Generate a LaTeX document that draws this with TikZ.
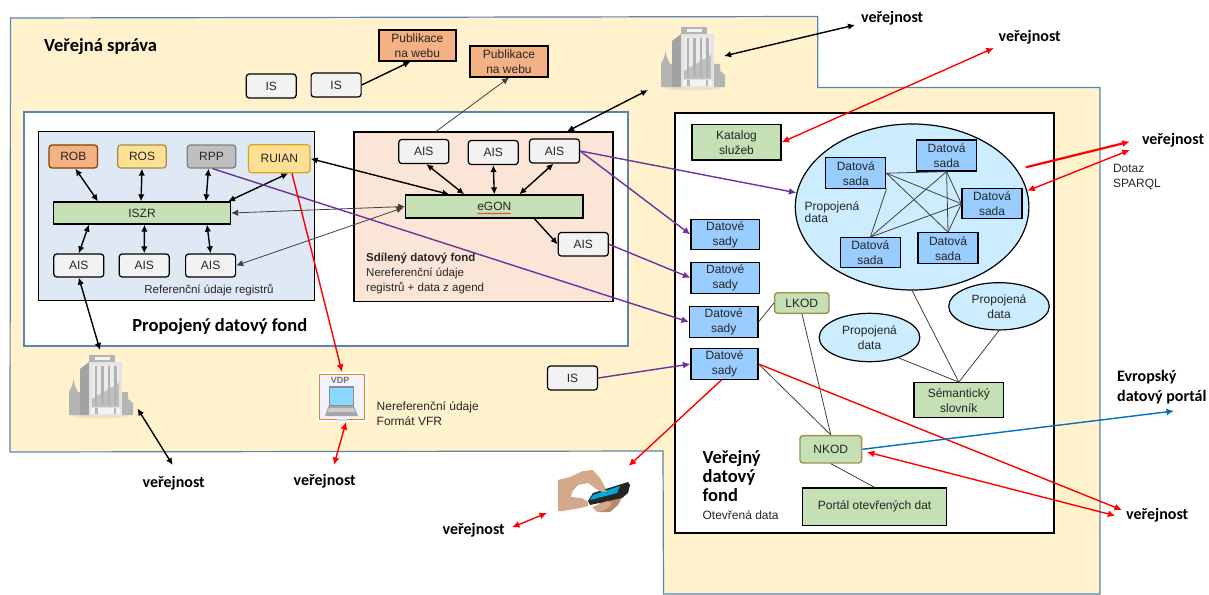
\documentclass[tikz,border=0pt]{standalone}
\usepackage{fontspec}
\setmainfont{Liberation Sans}
\newfontfamily\calib{Carlito}
\usetikzlibrary{arrows.meta,shapes.geometric,decorations.pathmorphing}
\definecolor{txt}{HTML}{262626}
\definecolor{bord}{HTML}{5B84AE}
\definecolor{yel}{HTML}{FFF2CC}
\definecolor{regblue}{HTML}{DEE9F5}
\definecolor{peach}{HTML}{FBE5D6}
\definecolor{grn}{HTML}{C5E0B4}
\definecolor{gry}{HTML}{F2F2F2}
\definecolor{pubor}{HTML}{F4B183}
\definecolor{dsblue}{HTML}{99CCFF}
\definecolor{elblue}{HTML}{CCECFF}
\definecolor{purp}{HTML}{7030A0}
\definecolor{euro}{HTML}{0070C0}
\definecolor{bg}{HTML}{B4B4B4}
\definecolor{skin}{HTML}{D2A98A}
\definecolor{skindk}{HTML}{B98A68}
\tikzset{
 lab/.style={font=\fontsize{12}{15}\selectfont,text=txt,inner sep=0pt,align=center},
 ltxt/.style={font=\fontsize{12}{15}\selectfont,text=txt,inner sep=0pt,align=left,anchor=west},
 head/.style={font=\calib\bfseries\fontsize{18.5}{20}\selectfont,inner sep=0pt,text=black},
 pub/.style={font=\calib\bfseries\fontsize{16}{20}\selectfont,inner sep=0pt,text=black,align=left},
 box/.style={lab,draw=black,line width=1.2pt,inner sep=0pt},
 aisbox/.style={box,fill=gry,rounded corners=3pt,minimum width=50pt,minimum height=24pt},
 greenbar/.style={box,fill=grn},
 pubbox/.style={box,fill=pubor,minimum width=77pt,minimum height=31pt},
 dsbox/.style={box,fill=dsblue,minimum width=60pt,minimum height=30pt},
 sadybox/.style={box,fill=dsblue,minimum width=68.4pt,minimum height=30pt},
 regbox/.style={box,rounded corners=3pt,minimum width=48.5pt,minimum height=23pt},
 oliv/.style={box,fill=grn,draw=black!50!yellow!70!brown,line width=1.4pt,rounded corners=3pt},
 elli/.style={ellipse,draw=black,line width=1.2pt,fill=elblue,inner sep=0pt,lab},
 da/.style={line width=1.4pt,black,{Latex[length=7pt,width=6.5pt]}-{Latex[length=7pt,width=6.5pt]}},
 sa/.style={line width=1.4pt,black,-{Latex[length=7pt,width=6.5pt]}},
 thinda/.style={line width=.8pt,black!75,{Latex[length=7pt,width=6.5pt]}-{Latex[length=7pt,width=6.5pt]}},
 thinline/.style={line width=.8pt,black!75},
 pa/.style={line width=1.4pt,purp,-{Latex[length=7.5pt,width=7pt]}},
 ra/.style={line width=1.4pt,red,-{Latex[length=7.5pt,width=7pt]}},
 rda/.style={line width=1.4pt,red,{Latex[length=7.5pt,width=7pt]}-{Latex[length=7.5pt,width=7pt]}},
 tower/.pic={
  \fill[black!25,opacity=.3] (32,61) ellipse (28 and 2.5);
  \fill[bg] (0,60)--(0,37)--(3,31)--(4.5,24)--(6,31)--(9,37)--(12,37)--(12,60)--cycle;
  \fill[bg] (52,60)--(52,37)--(59,37)--(59,44)--(64,48)--(64,60)--cycle;
  \fill[black!10!bg] (11,60)--(11,14)--(20,7)--(20,60)--cycle;
  \fill[black!4!white!75!bg] (20,7)--(53,7)--(53,60)--(20,60)--cycle;
  \fill[black!8!white] (23,10)--(50,10)--(50,52)--(23,52)--cycle;
  \foreach \wx in {27,33.5,40,46.5}{\fill[black!30!white] (\wx-1.2,11)--(\wx+1.2,11)--(\wx+1.2,50)--(\wx-1.2,50)--cycle;}
  \fill[bg,opacity=.8] (23,44)--(50,28)--(50,52)--(23,52)--cycle;
  \fill[bg] (20,0)--(46,0)--(46,7)--(20,7)--cycle;
  \fill[black!5!white] (26,2)--(41,2)--(41,5)--(26,5)--cycle;
  \fill[black!5!white] (22,53)--(51,53)--(51,59)--(22,59)--cycle;
  \fill[bg] (26,53)--(29,53)--(29,59)--(26,59)--cycle;
  \fill[bg] (45,53)--(47,53)--(47,59)--(45,59)--cycle;
 }
}
\begin{document}
\begin{tikzpicture}[x=1pt,y=-1pt]
\useasboundingbox (0,0) rectangle (1209,594);
% areas
\draw[bord,fill=yel,line width=1.2pt] (10.5,18)--(817.8,16.5)--(817.8,87.5)--(1100,87.5)--(1100,594)--(663.5,594)--(663,451)--(10,452)--cycle;
\node[head,anchor=west] (vs) at (44,46.5) {Veřejná správa};
\node[draw=bord,line width=1.2pt,fill=white,minimum width=604pt,minimum height=234pt,inner sep=0pt] (pdf) at (326,229) {};
\node[draw=black,line width=1.2pt,fill=regblue,minimum width=276pt,minimum height=169.5pt,inner sep=0pt] (reg) at (176.8,216) {};
\node[draw=black,line width=1.2pt,fill=peach,minimum width=259pt,minimum height=169.5pt,inner sep=0pt] (sdil) at (483.5,216.8) {};
\node[draw=black,line width=1.2pt,fill=white,minimum width=379pt,minimum height=420pt,inner sep=0pt] (vdf) at (864.4,323) {};
\node[head,anchor=center] (pdft) at (219.8,326.5) {Propojený datový fond};
\node[lab,font=\fontsize{11.5}{14}\selectfont] (rt) at (209,290.5) {Referenční údaje registrů};
\node[ltxt,anchor=north west,font=\fontsize{11.5}{15}\selectfont] (st) at (366,253) {\textbf{Sdílený datový fond}\\Nereferenční údaje\\registrů + data z agend};
% registers
\node[regbox,fill=pubor,draw=black!50!orange] (rob) at (73.3,156.5) {ROB};
\node[regbox,fill=yellow!45!orange!40!white,draw=black!50!yellow!70!brown] (ros) at (142,156.5) {ROS};
\node[regbox,fill=black!25,draw=black!50] (rpp) at (211.5,156.5) {RPP};
\node[regbox,fill=yellow!45!orange!40!white,draw=yellow!40!orange!85!black,minimum width=61.5pt,minimum height=28pt] (ruian) at (279.3,158.7) {RUIAN};
\node[greenbar,minimum width=177pt,minimum height=22pt] (iszr) at (142,213) {ISZR};
\node[aisbox,minimum height=23pt] (a1) at (78.8,265.5) {AIS};
\node[aisbox,minimum height=23pt] (a2) at (144.2,265.5) {AIS};
\node[aisbox,minimum height=23pt] (a3) at (210.6,265.5) {AIS};
% sdileny
\node[aisbox] (b1) at (423.8,151.5) {AIS};
\node[aisbox] (b2) at (493.3,152.5) {AIS};
\node[aisbox] (b3) at (554.5,151) {AIS};
\node[greenbar,minimum width=177.3pt,minimum height=23pt] (egon) at (494.3,206.5) {eGON};
\draw[red,line width=.4pt,decorate,decoration={snake,amplitude=.5pt,segment length=2.2pt}] (477.5,213.5)--(511,213.5);
\node[aisbox,minimum height=23.5pt] (b4) at (583.3,244.3) {AIS};
% top
\node[aisbox] (is1) at (271.2,86) {IS};
\node[aisbox] (is2) at (336.1,85) {IS};
\node[pubbox] (pub1) at (417.4,45.5) {Publikace\\na webu};
\node[pubbox,minimum width=78pt] (pub2) at (509,61.5) {Publikace\\na webu};
\node[aisbox] (is3) at (572.5,378) {IS};
% vdf content
\node[box,fill=grn,minimum width=89pt,minimum height=35.3pt] (kat) at (736.5,142.3) {Katalog\\služeb};
\node[elli,minimum width=233.6pt,minimum height=166pt] (big) at (912.1,207) {};
\node[lab,anchor=west,align=left,font=\fontsize{12}{11.5}\selectfont] (pdt) at (804.4,212) {Propojená\\data};
\node[dsbox,minimum height=31pt] (d1) at (855.8,173.2) {Datová\\sada};
\node[dsbox,minimum height=31pt] (d2) at (946.6,155.5) {Datová\\sada};
\node[dsbox] (d3) at (992,203.8) {Datová\\sada};
\node[dsbox] (d4) at (870.3,252.8) {Datová\\sada};
\node[dsbox,minimum height=31pt] (d5) at (948,248.2) {Datová\\sada};
\node[sadybox] (s1) at (725.2,234.5) {Datové\\sady};
\node[sadybox,minimum height=31pt] (s2) at (725.2,277.8) {Datové\\sady};
\node[sadybox,minimum height=30.6pt] (s3) at (723.7,322) {Datové\\sady};
\node[sadybox,minimum width=67pt,minimum height=30.6pt] (s4) at (724.5,364) {Datové\\sady};
\node[oliv,minimum width=54.4pt,minimum height=20.6pt] (lkod) at (801.8,303) {LKOD};
\node[oliv,minimum width=61.7pt,minimum height=27.3pt] (nkod) at (830.8,449.3) {NKOD};
\node[box,fill=grn,minimum width=89.6pt,minimum height=35pt] (sem) at (958.8,400.2) {Sémantický\\slovník};
\node[box,fill=grn,minimum width=144pt,minimum height=37.7pt] (port) at (874.6,506.8) {Portál otevřených dat};
\node[elli,minimum width=100.5pt,minimum height=47.3pt] (p1) at (999,306.3) {Propojená\\data};
\node[elli,minimum width=100.6pt,minimum height=48.4pt] (p2) at (869.5,337.5) {Propojená\\data};
\node[head,anchor=north west,align=left,font=\calib\bfseries\fontsize{18.5}{19}\selectfont] (vt) at (702.4,450) {Veřejný\\datový\\fond};
\node[ltxt] (vot) at (702.4,515) {Otevřená data};
% public labels
\node[pub,anchor=west] (v1) at (861,18) {veřejnost};
\node[pub,anchor=west] (v2) at (998.5,37.5) {veřejnost};
\node[pub,anchor=west] (v3) at (1141.8,140.5) {veřejnost};
\node[pub,anchor=west] (v4) at (1126,515.5) {veřejnost};
\node[pub,anchor=west] (v5) at (442.5,530.5) {veřejnost};
\node[pub,anchor=west] (v6) at (293.5,481.5) {veřejnost};
\node[pub,anchor=west] (v7) at (142.5,483) {veřejnost};
\node[pub,anchor=west] (eu) at (1117,387) {Evropský\\datový portál};
\node[ltxt] (sp) at (1112.8,177.5) {Dotaz\\SPARQL};
\node[ltxt] (nr) at (376.5,413.5) {Nereferenční údaje\\Formát VFR};
% buildings
\pic at (661,27) {tower};
\pic at (69,355) {tower};
\coordinate (tw1e) at (724,56);
\coordinate (tw1s) at (648,90);
\coordinate (pub1top) at (855,25);
\coordinate (tw2n) at (100,350);
\coordinate (tw2e) at (137.5,408.5);
\coordinate (v7n) at (172.7,465);
% VDP
\node[draw=white,line width=2pt,minimum width=49pt,minimum height=48pt,inner sep=0pt] (vdph) at (342,397) {};
\node[draw=orange!85!brown,line width=1.3pt,fill=black!8!blue!5!white,minimum width=45pt,minimum height=44.5pt,inner sep=0pt] (vdp) at (342,397) {};
\node[font=\bfseries\fontsize{9}{10}\selectfont,text=black!55,inner sep=0pt] (vdpt) at (340,380.5) {VDP};
\fill[black!45] (328.5,386)--(354,386)--(354,406)--(328.5,406)--cycle;
\fill[blue!35!cyan!45!white] (330,387.5)--(352.5,387.5)--(352.5,404.5)--(330,404.5)--cycle;
\fill[black!35] (328.5,406)--(354,406)--(358,416)--(325,416)--cycle;
\fill[black!20] (329,408)--(353.5,408)--(355,412)--(327.5,412)--cycle;
\fill[black!15] (337,419)--(347,419)--(347,421)--(337,421)--cycle;
% phone
\fill[skindk] (600,500)--(622,497)--(618,505)--(610,512)--(598,512)--cycle;
\fill[skin] (558,480)--(570,477)--(583,471)--(593,470)--(600,478)--(605,487)--(607,491)--(602,492)--(595,488)--(588,483)--(578,485)--(572,492)--(571,497)--(582,498)--(588,502)--(588,506)--(580,508)--(563,511)--(558,511)--cycle;
\fill[black!85] (588,501)--(593,493)--(628,482)--(630,485)--(628,493)--(622,498)--(590,505)--cycle;
\fill[euro!60!cyan] (590,500)--(593,495)--(620,486)--(617,493)--cycle;
\fill[skin] (595,488)--(602,487)--(607,491)--(602,492)--cycle;
\fill[skin] (592,507)--(608,501)--(612,504)--(605,510)--(597,512)--cycle;
\coordinate (phn) at (628.6,466);
\coordinate (phw) at (547,513);
% register arrows
\draw[da] ([xshift=2pt]rob.south) -- ([xshift=-44pt]iszr.north);
\draw[da] (ros.south) -- ([xshift=-1pt]iszr.north);
\draw[da] ([xshift=-3pt]rpp.south) -- ([xshift=64pt]iszr.north);
\draw[da] ([xshift=9pt]ruian.south) -- ([xshift=86pt]iszr.north);
\draw[da] ([xshift=-53pt]iszr.south) -- (a1.north);
\draw[da] ([xshift=2.5pt]iszr.south) -- (a2.north);
\draw[da] ([xshift=65pt]iszr.south) -- (a3.north);
\draw[da] (ruian.east) -- ([xshift=-45pt]egon.north);
\draw[da] ([xshift=2.5pt]b1.south) -- ([xshift=-30pt]egon.north);
\draw[da] (b2.south) -- (egon.north);
\draw[da] ([xshift=-1pt]b3.south) -- ([xshift=25pt]egon.north);
\draw[thinda] (iszr.east) -- (egon.west);
\draw[thinda] (a3.east) -- ([xshift=-1.5pt,yshift=11pt]egon.south west);
\draw[sa] ([xshift=40pt]egon.south) -- (b4.west);
\draw[sa] (is2.east) -- ([xshift=-7pt]pub1.south);
\draw[thinline,-{Latex[length=7pt,width=6.5pt]}] ([xshift=-47.5pt]sdil.north) -- (pub2.south);
\draw[da] ([xshift=83.5pt]sdil.north) -- (tw1s);
\draw[da] (tw1e) -- (pub1top);
\draw[da] (a1.south) -- (tw2n);
\draw[da] (tw2e) -- (v7n);
% purple
\draw[pa] (is3.east) -- (s4.west);
\draw[pa] (b3.east) -- (s1.west);
\draw[pa] (b3.east) -- (big.173);
\draw[pa] (b4.east) -- (s2.west);
\draw[pa] ([xshift=1pt]rpp.south) -- (s3.west);
% red
\coordinate (v2s) at (993.8,48);
\coordinate (v3a) at (1129.8,141.7);
\coordinate (v3b) at (1129.8,150);
\coordinate (bigr) at (1025.7,167.3);
\coordinate (v4a) at (1121.9,510);
\coordinate (v4b) at (1115.3,515.7);
\coordinate (nkr) at (866.8,452);
\coordinate (v5e) at (512,527.3);
\coordinate (v6n) at (334,465);
\coordinate (eue) at (1174,411);
\draw[ra] ([xshift=12.7pt]ruian.south) -- (vdph.north);
\draw[rda] ([xshift=4pt]vdph.south) -- (v6n);
\draw[rda] (kat.east) -- (v2s);
\draw[ra,line width=2.2pt] (bigr) -- (v3a);
\draw[rda] (big.8) -- (v3b);
\draw[ra] (s4.east) -- (v4a);
\draw[rda] (nkr) -- (v4b);
\draw[ra] ([xshift=-3pt]s4.south) -- (phn);
\draw[rda] (phw) -- (v5e);
\draw[line width=1.4pt,euro,-{Latex[length=7.5pt,width=7pt]}] (nkod.east) -- (eue);
% thin
\foreach \u/\v in {d1.east/d2.south,d1.east/d3.west,d1.east/d5.north,d1.south east/d4.north,d2.south/d4.north,d2.south/d5.north,d2.south/d3.west,d3.west/d4.north,d3.west/d5.north}
 \draw[thinline] (\u) -- (\v);
\draw[thinline] (lkod.west) -- (s3.east);
\draw[thinline] ([xshift=.2pt]lkod.south) -- (nkod.north);
\draw[thinline] (s4.east) -- (nkod.north);
\draw[thinline] (big.south) -- (sem.north);
\draw[thinline] (p1.south) -- (sem.north);
\draw[thinline] (p2.-35) -- (sem.north);
\draw[thinline] (nkod.south) -- (port.north);
\end{tikzpicture}
\end{document}
